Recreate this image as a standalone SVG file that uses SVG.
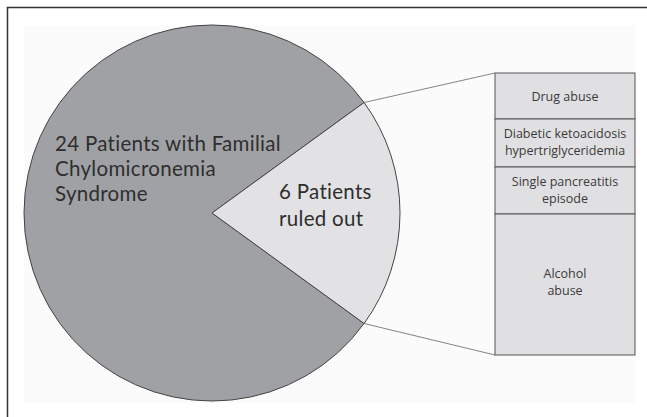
<svg xmlns="http://www.w3.org/2000/svg" width="647" height="417" viewBox="0 0 647 417">
<style>
.frame{fill:none;stroke:#333;stroke-width:1.5}
.big{font-family:Lato,"Open Sans","Liberation Sans",sans-serif;font-size:20.5px;letter-spacing:0.3px;fill:#2e2e2e}
.small{font-family:"Open Sans","Liberation Sans",sans-serif;font-size:12.5px;fill:#3a3a3a;text-anchor:middle}
.cell{fill:#e0e0e2;stroke:#555;stroke-width:1}
.conn{stroke:#666;stroke-width:0.8;fill:none}
</style>
<rect x="0" y="0" width="647" height="417" fill="#ffffff"/>
<rect x="7.5" y="7.5" width="660" height="430" class="frame"/>
<rect x="24" y="25" width="612" height="378" fill="#fbfbfb"/>
<g id="pie-main">
<path d="M212,213 L364.1,102.5 A188,188 0 1,0 364.1,323.5 Z" fill="#a0a1a4" stroke="#444" stroke-width="1"/>
<text class="big" x="55" y="151">24 Patients with Familial</text>
<text class="big" x="55" y="176">Chylomicronemia</text>
<text class="big" x="55" y="201">Syndrome</text>
</g>
<g id="pie-slice">
<path d="M212,213 L364.1,102.5 A188,188 0 0,1 364.1,323.5 Z" fill="#e2e2e4" stroke="#444" stroke-width="1"/>
<text class="big" x="279" y="199">6 Patients</text>
<text class="big" x="279" y="226">ruled out</text>
</g>
<g id="connectors">
<line class="conn" x1="364.1" y1="102.5" x2="495" y2="73"/>
<line class="conn" x1="364.1" y1="323.5" x2="495" y2="355"/>
</g>
<g id="drug-abuse">
<rect class="cell" x="495" y="73" width="140" height="46"/>
<text class="small" x="565" y="101">Drug abuse</text>
</g>
<g id="diabetic">
<rect class="cell" x="495" y="119" width="140" height="48"/>
<text class="small" x="565" y="138">Diabetic ketoacidosis</text>
<text class="small" x="565" y="155">hypertriglyceridemia</text>
</g>
<g id="single">
<rect class="cell" x="495" y="167" width="140" height="47"/>
<text class="small" x="565" y="186">Single pancreatitis</text>
<text class="small" x="565" y="203">episode</text>
</g>
<g id="alcohol">
<rect class="cell" x="495" y="214" width="140" height="141"/>
<text class="small" x="565" y="278">Alcohol</text>
<text class="small" x="565" y="295">abuse</text>
</g>
</svg>
